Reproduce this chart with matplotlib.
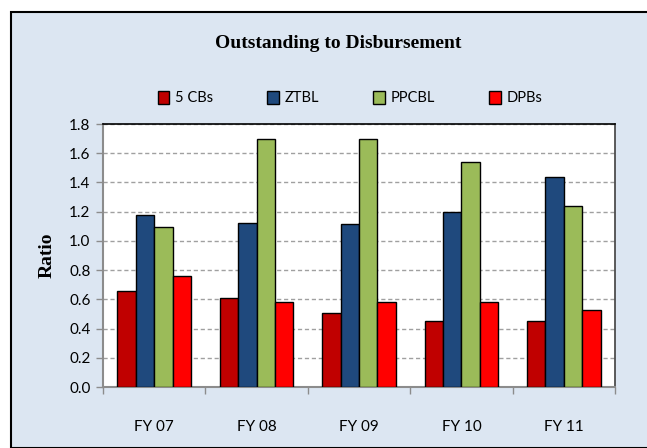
import matplotlib
matplotlib.use("Agg")
from matplotlib import pyplot as plt
from matplotlib.patches import Rectangle
import numpy as np

years = ['FY 07', 'FY 08', 'FY 09', 'FY 10', 'FY 11']
cbs5 = [0.66, 0.61, 0.505, 0.455, 0.455]
ztbl = [1.18, 1.125, 1.115, 1.20, 1.44]
ppcbl = [1.095, 1.695, 1.695, 1.54, 1.24]
dpbs = [0.76, 0.58, 0.58, 0.58, 0.527]

names = ['5 CBs', 'ZTBL', 'PPCBL', 'DPBs']
colors = ['#C00000', '#1F497D', '#9BBB59', '#FF0000']

sans = 'Lato'

fig = plt.figure(figsize=(6.47, 4.48), dpi=100)
W, H = 647, 448

# outer chart frame
fig.patches.append(Rectangle((11 / W, 0), 1, 1 - 12 / H, transform=fig.transFigure,
                             facecolor='#DCE6F2', edgecolor='black', lw=1.5, zorder=-10))

ax = fig.add_axes([103 / W, 1 - 387 / H, (615 - 103) / W, (387 - 124) / H])
ax.set_facecolor('white')

x = np.arange(len(years))
w = 0.18
series = [cbs5, ztbl, ppcbl, dpbs]
for i, vals in enumerate(series):
    ax.bar(x + (i - 1.5) * w, vals, w, color=colors[i], edgecolor='black', lw=1,
           label=names[i], zorder=3)

ax.set_xlim(-0.5, len(years) - 0.5)
ax.set_ylim(0, 1.8)
ax.set_yticks(np.arange(0, 1.81, 0.2))
ax.set_yticklabels(['%.1f' % v for v in np.arange(0, 1.81, 0.2)], fontsize=11, family=sans)
ax.yaxis.grid(True, ls=(0, (3, 2)), color='#A0A0A0', lw=1, zorder=0)

ax.set_xticks(x)
ax.set_xticklabels(years, fontsize=11, family=sans)
ax.set_xticks(np.arange(-0.5, len(years)), minor=True)
ax.tick_params(axis='x', which='major', length=0, pad=24)
ax.tick_params(axis='x', which='minor', length=5, color='#8C8C8C', width=1)
ax.tick_params(axis='y', length=5, color='#8C8C8C', width=1, pad=4)

for s in ['left', 'bottom']:
    ax.spines[s].set_color('#8C8C8C')
    ax.spines[s].set_linewidth(1.5)
ax.spines['top'].set_color('black')
ax.spines['top'].set_linewidth(1.2)
ax.spines['right'].set_color('#404040')
ax.spines['right'].set_linewidth(1.2)

ax.set_ylabel('Ratio', fontsize=14, fontweight='bold', family='Liberation Serif', labelpad=10)

fig.text(338 / W, 1 - 43 / H, 'Outstanding to Disbursement', ha='center', va='center',
         fontsize=14, fontweight='bold', family='Liberation Serif')

fig.legend(loc='center', bbox_to_anchor=(350 / W, 1 - 98 / H), ncol=4, frameon=False,
           prop={'family': sans, 'size': 10.5},
           handlelength=0.8, handleheight=1.0, columnspacing=3.7, handletextpad=0.4)

fig.savefig('out.png', dpi=100)
